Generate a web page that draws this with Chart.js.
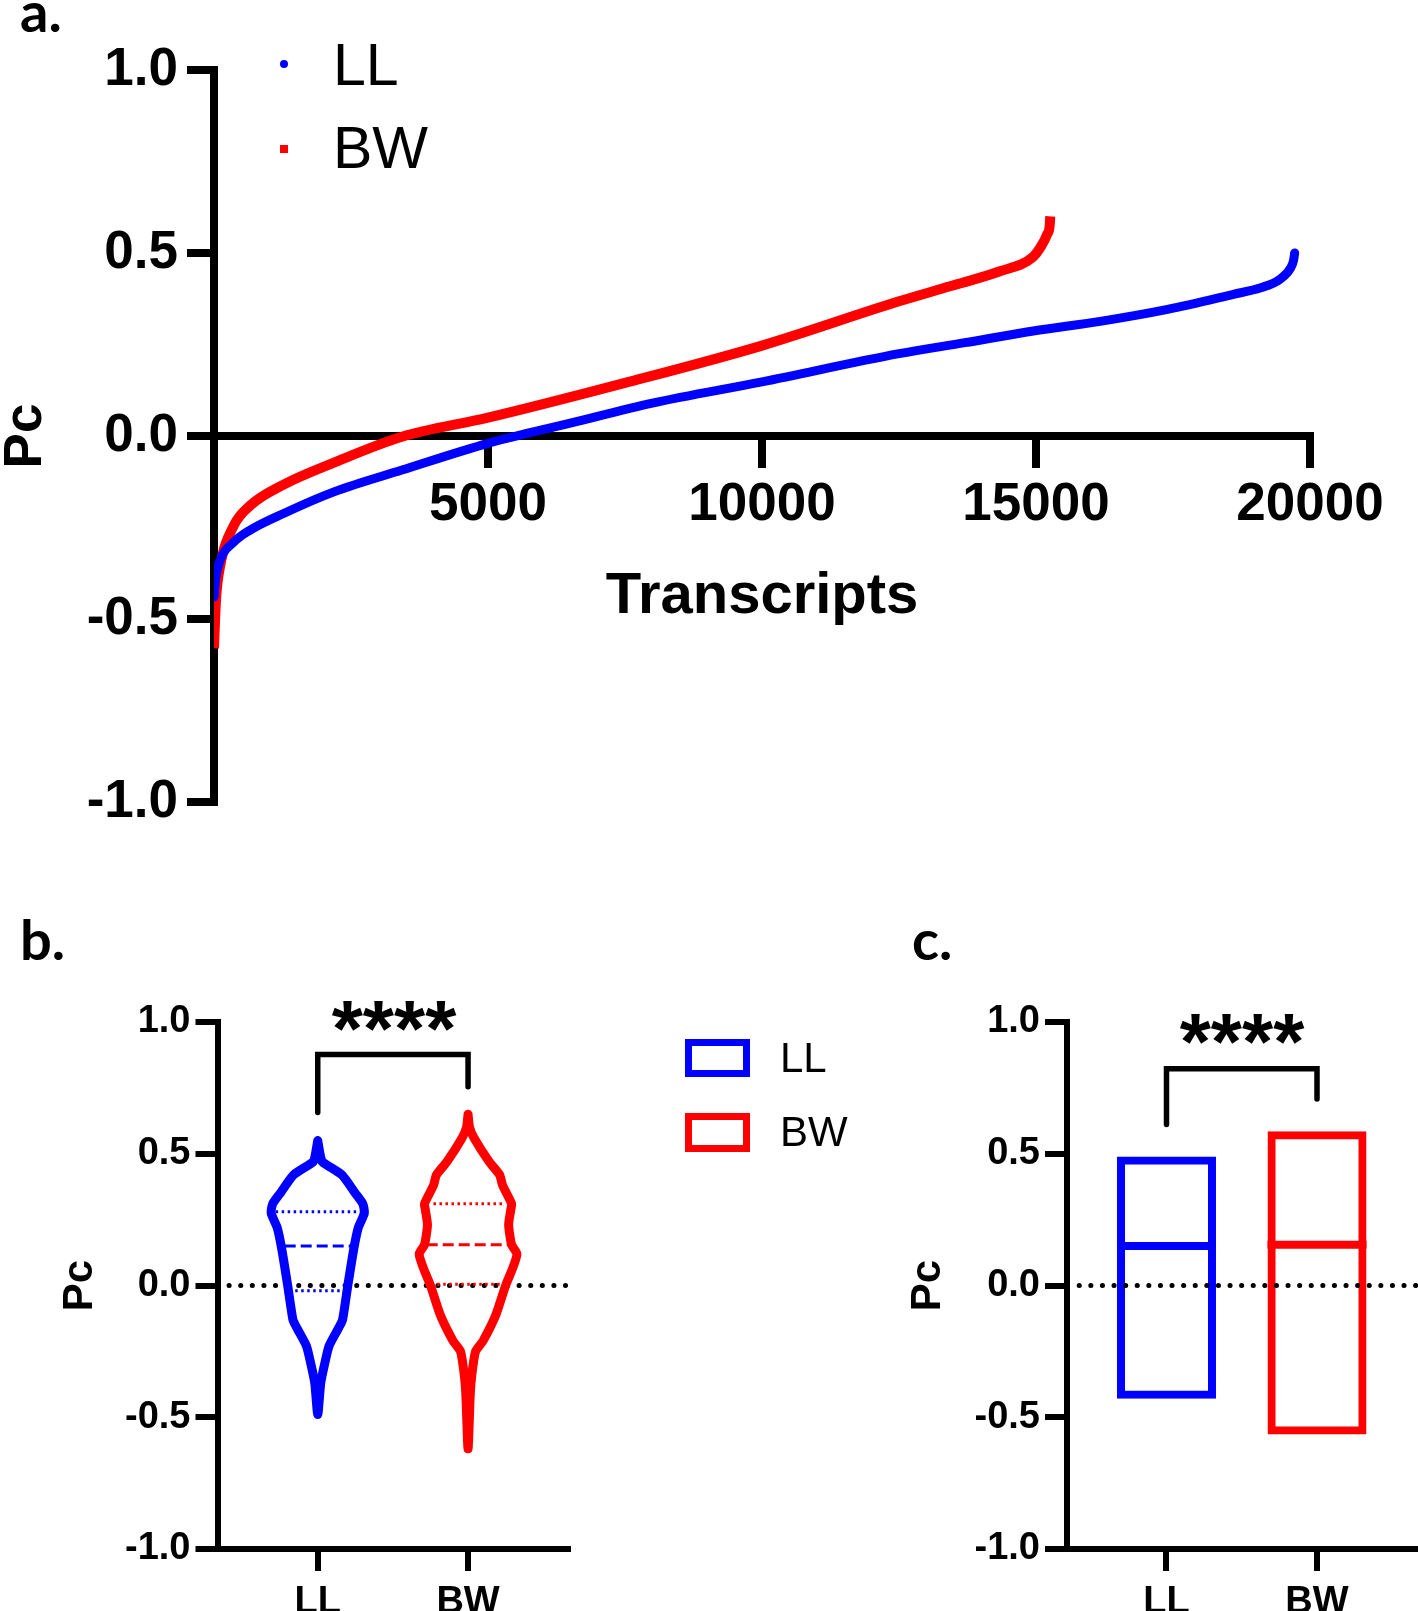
<!DOCTYPE html>
<html><head><meta charset="utf-8">
<script src="https://cdn.jsdelivr.net/npm/chart.js@4.4.1/dist/chart.umd.min.js"></script>
<style>
html,body{margin:0;padding:0;background:#fff;}
body{width:1418px;height:1611px;position:relative;overflow:hidden;}
canvas{position:absolute;}
.t{position:absolute;line-height:0;white-space:nowrap;color:#000;}
.box{position:absolute;box-sizing:border-box;}
</style></head><body>
<canvas id="ca" width="1418" height="880" style="left:0;top:0"></canvas>
<canvas id="cb" width="650" height="731" style="left:0;top:880px"></canvas>
<canvas id="cc" width="718" height="731" style="left:700px;top:880px"></canvas>
<script>
// ---------------- DATA ----------------
const groups = ['LL', 'BW'];
const groupColors = ['#0000FF', '#FF0000'];

// Panel a: ranked Pc per transcript
const llTranscripts = [0, 30, 110, 360, 660, 1280, 2200, 3430, 5000, 6500, 8000, 10000, 12500, 13700, 14950, 16200, 17400, 18600, 19100, 19450, 19650, 19700, 19720];
const llPc          = [-0.44, -0.39, -0.34, -0.29, -0.257, -0.211, -0.152, -0.093, -0.02, 0.035, 0.09, 0.148, 0.225, 0.255, 0.287, 0.314, 0.346, 0.387, 0.405, 0.428, 0.46, 0.48, 0.50];
const bwTranscripts = [0, 20, 40, 110, 360, 660, 1280, 2200, 3430, 5000, 7500, 10000, 12500, 13430, 14340, 14950, 15100, 15200, 15250, 15260];
const bwPc          = [-0.58, -0.50, -0.44, -0.357, -0.245, -0.19, -0.132, -0.072, -0.002, 0.05, 0.145, 0.247, 0.368, 0.409, 0.45, 0.49, 0.52, 0.55, 0.575, 0.60];

const pcTicks = [-1, -0.5, 0, 0.5, 1];
const transcriptTicks = [0, 5000, 10000, 15000, 20000];

// Panel b: violin profiles (Pc level, half width in category units)
const violinLevelsLL = [0.55, 0.50, 0.47, 0.42, 0.35, 0.31, 0.275, 0.22, 0.14, 0.0, -0.13, -0.16, -0.23, -0.30, -0.37, -0.49];
const violinWidthLL  = [0, 0.015, 0.03, 0.16, 0.25, 0.30, 0.31, 0.27, 0.24, 0.20, 0.165, 0.14, 0.075, 0.045, 0.02, 0];
const violinLevelsBW = [0.65, 0.60, 0.56, 0.47, 0.42, 0.38, 0.31, 0.29, 0.23, 0.155, 0.12, 0.07, 0.0, -0.11, -0.21, -0.25, -0.34, -0.41, -0.62];
const violinWidthBW  = [0, 0.01, 0.04, 0.14, 0.21, 0.23, 0.29, 0.285, 0.27, 0.29, 0.325, 0.30, 0.25, 0.186, 0.10, 0.05, 0.025, 0.015, 0];
const quartilesLL = [-0.02, 0.15, 0.28];
const quartileHalfLL = [0.15, 0.22, 0.28];
const quartilesBW = [0.005, 0.155, 0.31];
const quartileHalfBW = [0.245, 0.275, 0.23];

// Panel c: min-max floating bars with median line
const minPc = [-0.43, -0.565];
const maxPc = [0.49, 0.585];
const medianPc = [0.15, 0.155];

// significance brackets [left leg end, bar height, right leg end]
const bracketB = [0.657, 0.877, 0.754];
const bracketC = [0.611, 0.823, 0.708];
const sigLabel = '****';

// ---------------- HELPERS ----------------
const FAM = 'Liberation Sans';
const tickFont = s => ({family: FAM, size: s, weight: 'bold', lineHeight: 1.2});

function addText(txt, x, baseline, size, weight, family, align) {
  const d = document.createElement('div');
  d.className = 't';
  d.textContent = txt;
  const k = family.indexOf('Lato') >= 0 ? 0.387 : 0.3465;
  d.style.top = (baseline - k * size) + 'px';
  d.style.left = x + 'px';
  d.style.fontSize = size + 'px';
  d.style.fontWeight = weight;
  d.style.fontFamily = family;
  if (align === 'center') d.style.transform = 'translateX(-50%)';
  document.body.appendChild(d);
}
function addBox(x, y, w, h, css) {
  const d = document.createElement('div');
  d.className = 'box';
  Object.assign(d.style, {left: x + 'px', top: y + 'px', width: w + 'px', height: h + 'px'}, css);
  document.body.appendChild(d);
}

function pcAxis(width, fontSize, tl, tw, pad, titleSize, titlePad) {
  return {
    type: 'linear', position: 'left', min: -1, max: 1,
    afterBuildTicks: s => { s.ticks = pcTicks.map(v => ({value: v})); },
    afterFit: s => { s.width = width; s.paddingTop = 0; s.paddingBottom = 0; },
    grid: {drawOnChartArea: false, drawTicks: true, tickLength: tl, tickWidth: tw, tickColor: '#000', lineWidth: tw, color: '#000'},
    border: {display: true, width: tw, color: '#000'},
    ticks: {font: tickFont(fontSize), color: '#000', padding: pad, callback: v => Number(v).toFixed(1)},
    title: {display: true, text: 'Pc', color: '#000', font: {family: FAM, size: titleSize, weight: 'bold', lineHeight: 1}, padding: {top: titlePad, bottom: 0}}
  };
}
function groupAxis(min, max, height) {
  return {
    type: 'linear', position: 'bottom', min: min, max: max, offset: false,
    afterBuildTicks: s => { s.ticks = groups.map((g, i) => ({value: i + 1})); },
    afterFit: s => { s.height = height; s.paddingLeft = 0; s.paddingRight = 0; },
    grid: {offset: false, drawOnChartArea: false, drawTicks: true, tickLength: 22, tickWidth: 6, tickColor: '#000', lineWidth: 6, color: '#000'},
    border: {display: true, width: 6, color: '#000'},
    ticks: {font: tickFont(38), color: '#000', padding: 9, maxRotation: 0, autoSkip: false, callback: v => groups[Math.round(v) - 1] || ''}
  };
}
const common = {
  responsive: false, animation: false, devicePixelRatio: 1,
  plugins: {legend: {display: false}, tooltip: {enabled: false}}
};

function bracketDataset(b) {
  return {type: 'line', data: [{x: 1, y: b[0]}, {x: 1, y: b[1]}, {x: 2, y: b[1]}, {x: 2, y: b[2]}],
    borderColor: '#000', borderWidth: 5.5, pointRadius: 0, borderCapStyle: 'round', borderJoinStyle: 'miter', fill: false, tension: 0};
}
function zeroLine(x0, x1) {
  return {type: 'line', data: [{x: x0, y: 0}, {x: x1, y: 0}], borderColor: '#000', borderWidth: 5,
    borderDash: [0.1, 11.5], borderCapStyle: 'round', pointRadius: 0, fill: false};
}

// ---------------- PANEL A ----------------
const llPts = llTranscripts.map((x, i) => ({x: x, y: llPc[i]}));
const bwPts = bwTranscripts.map((x, i) => ({x: x, y: bwPc[i]}));
new Chart(document.getElementById('ca'), {
  type: 'scatter',
  data: {datasets: [
    {label: groups[0], data: llPts, showLine: true, pointRadius: 0, borderColor: groupColors[0], borderWidth: 9, cubicInterpolationMode: 'monotone', borderCapStyle: 'round', fill: false},
    {label: groups[1], data: bwPts, showLine: true, pointRadius: 0, borderColor: groupColors[1], borderWidth: 10, cubicInterpolationMode: 'monotone', borderCapStyle: 'butt', fill: false}
  ]},
  options: Object.assign({}, common, {
    layout: {padding: {left: 0, top: 70, right: 108, bottom: 78}},
    scales: {
      x: {
        type: 'linear', position: {y: 0}, min: 0, max: 20000,
        afterBuildTicks: s => { s.ticks = transcriptTicks.map(v => ({value: v})); },
        afterFit: s => { s.paddingLeft = 0; s.paddingRight = 0; },
        grid: {drawOnChartArea: false, drawTicks: true, tickLength: 28, tickWidth: 8, tickColor: '#000', lineWidth: 8, color: '#000'},
        border: {display: true, width: 8, color: '#000'},
        ticks: {font: tickFont(53), color: '#000', padding: 10, maxRotation: 0, autoSkip: false, callback: v => v === 0 ? '' : String(v)},
        title: {display: true, text: 'Transcripts', color: '#000', font: {family: FAM, size: 58, weight: 'bold', lineHeight: 1.2}, padding: {top: 15, bottom: 0}}
      },
      y: pcAxis(214, 53, 27, 8, 9, 53, 0)
    }
  })
});

// ---------------- PANEL B ----------------
function violinPoints(levels, widths, center) {
  const right = levels.map((v, i) => ({x: center + widths[i], y: v}));
  const left = levels.map((v, i) => ({x: center - widths[i], y: v})).reverse();
  return right.concat(left.slice(1));
}
function quartileDatasets(q, h, center, color) {
  return q.map((v, i) => ({type: 'line', data: [{x: center - h[i], y: v}, {x: center + h[i], y: v}],
    borderColor: color, borderWidth: 3, pointRadius: 0, fill: false,
    borderDash: i === 1 ? [11, 5] : [2.5, 3.5]}));
}
new Chart(document.getElementById('cb'), {
  type: 'scatter',
  data: {datasets: [
    {type: 'line', label: groups[0], data: violinPoints(violinLevelsLL, violinWidthLL, 1), borderColor: groupColors[0], borderWidth: 9, pointRadius: 0, tension: 0.2, borderJoinStyle: 'round', borderCapStyle: 'round', fill: false},
    {type: 'line', label: groups[1], data: violinPoints(violinLevelsBW, violinWidthBW, 2), borderColor: groupColors[1], borderWidth: 9, pointRadius: 0, tension: 0.2, borderJoinStyle: 'round', borderCapStyle: 'round', fill: false},
    ...quartileDatasets(quartilesLL, quartileHalfLL, 1, groupColors[0]),
    ...quartileDatasets(quartilesBW, quartileHalfBW, 2, groupColors[1]),
    bracketDataset(bracketB),
    zeroLine(0.41, 2.665)
  ]},
  options: Object.assign({}, common, {
    layout: {padding: {left: 0, top: 142, right: 82, bottom: 0}},
    scales: {
      x: groupAxis(0.333, 2.665, 62),
      y: pcAxis(217.5, 38, 22, 6, 5, 42, 59)
    }
  })
});

// ---------------- PANEL C ----------------
const BAR_HALF = 0.329;
new Chart(document.getElementById('cc'), {
  type: 'bar',
  data: {datasets: [
    zeroLine(0.42, 2.671),
    {type: 'bar', label: 'range', data: groups.map((g, i) => ({x: i + 1, y: [minPc[i], maxPc[i]]})),
      backgroundColor: 'rgba(0,0,0,0)', borderColor: groupColors, borderWidth: 8, borderSkipped: false, barThickness: 99, inflateAmount: 0},
    ...groups.map((g, i) => ({type: 'line', label: g + ' median', data: [{x: i + 1 - BAR_HALF, y: medianPc[i]}, {x: i + 1 + BAR_HALF, y: medianPc[i]}],
      borderColor: groupColors[i], borderWidth: 8, pointRadius: 0, borderCapStyle: 'butt', fill: false})),
    bracketDataset(bracketC)
  ]},
  options: Object.assign({}, common, {
    layout: {padding: {left: 0, top: 142, right: 0, bottom: 0}},
    scales: {
      x: groupAxis(0.339, 2.671, 62),
      y: pcAxis(367, 38, 22, 6, 5, 42, 207)
    }
  })
});

// ---------------- TEXT / LEGENDS ----------------
addText('a.', 20, 33, 56, 'bold', 'Lato', 'left');
addText('b.', 20, 961, 56, 'bold', 'Lato', 'left');
addText('c.', 912, 961, 56, 'bold', 'Lato', 'left');

// legend panel a (point markers)
addBox(280, 60, 8, 8, {background: groupColors[0], borderRadius: '50%'});
addBox(280, 144.5, 8, 8, {background: groupColors[1]});
addText(groups[0], 333, 85, 59, 'normal', FAM, 'left');
addText(groups[1], 333, 168, 59, 'normal', FAM, 'left');

// legend panel b (outlined boxes)
addBox(685, 1039, 65, 38, {border: '7px solid ' + groupColors[0]});
addBox(685, 1113, 65, 39, {border: '7px solid ' + groupColors[1]});
addText(groups[0], 780, 1073, 42, 'normal', FAM, 'left');
addText(groups[1], 780, 1147, 42, 'normal', FAM, 'left');

// significance labels
addText(sigLabel, 394, 1057, 80, 'bold', FAM, 'center');
addText(sigLabel, 1242, 1070, 80, 'bold', FAM, 'center');
</script>
</body></html>
